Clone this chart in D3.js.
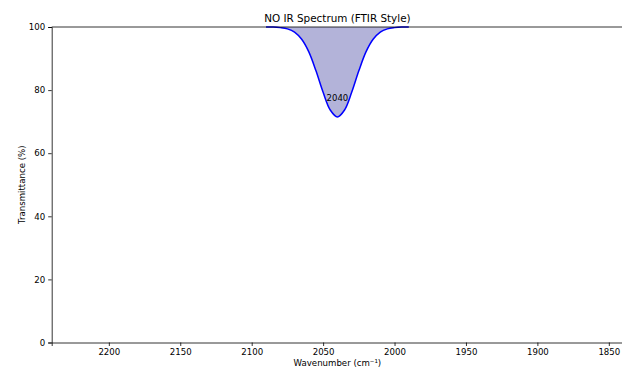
<!DOCTYPE html>
<html>
<head>
<meta charset="utf-8">
<script src="https://cdn.jsdelivr.net/npm/d3@7/dist/d3.min.js"></script>
<style>
  html, body { margin: 0; padding: 0; background: #fff; }
  svg { display: block; font-family: "DejaVu Sans", sans-serif; }
</style>
</head>
<body>
<svg id="chart" width="622" height="370"></svg>
<script>
// NO stretching band, wavenumber (cm^-1) vs transmittance (%)
const wavenumbers = [2090, 2085, 2080, 2075, 2070, 2065, 2060, 2055, 2050, 2045, 2040,
                     2035, 2030, 2025, 2020, 2015, 2010, 2005, 2000, 1995, 1990];
const transmittance = [100, 100, 99.8, 99.4, 98.4, 96.1, 92.1, 86.1, 79.3, 73.7, 71.5,
                       73.7, 79.3, 86.1, 92.1, 96.1, 98.4, 99.4, 99.8, 100, 100];
const peakLabels = [{ wn: 2040, t: 71.5, text: "2040" }];
const xTicks = [2200, 2150, 2100, 2050, 2000, 1950, 1900, 1850];
const yTicks = [0, 20, 40, 60, 80, 100];
const xDomain = [2240, 1840];
const yDomain = [0, 100];

const svg = d3.select("#chart");
const margin = { left: 51.7, right: 623.1, top: 27, bottom: 342.5 };

const x = d3.scaleLinear().domain(xDomain).range([margin.left, margin.right]);
const y = d3.scaleLinear().domain(yDomain).range([margin.bottom, margin.top]);

const data = wavenumbers.map((w, i) => ({ w, t: transmittance[i] }));

// shaded absorption area between the curve and 100 %
const area = d3.area()
  .x(d => x(d.w))
  .y0(y(100))
  .y1(d => y(d.t))
  .curve(d3.curveCatmullRom.alpha(0.5));
svg.append("path").datum(data)
  .attr("d", area)
  .attr("fill", "rgb(179,179,217)");

const line = d3.line()
  .x(d => x(d.w))
  .y(d => y(d.t))
  .curve(d3.curveCatmullRom.alpha(0.5));
svg.append("path").datum(data)
  .attr("d", line)
  .attr("fill", "none")
  .attr("stroke", "#0000ff")
  .attr("stroke-width", 1.5);

// peak annotation
svg.selectAll("text.peak").data(peakLabels).enter().append("text")
  .attr("class", "peak")
  .attr("x", d => x(d.wn))
  .attr("y", d => y(d.t + 5))
  .attr("text-anchor", "middle")
  .attr("font-size", 8.5)
  .attr("fill", "#000")
  .text(d => d.text);

// axes
const xAxis = d3.axisBottom(x).tickValues(xTicks).tickFormat(d3.format("d")).tickSizeOuter(0).tickSize(3.5).tickPadding(3);
const yAxis = d3.axisLeft(y).tickValues(yTicks).tickFormat(d3.format("d")).tickSizeOuter(0).tickSize(3.5).tickPadding(3);

const gx = svg.append("g").attr("transform", `translate(0,${margin.bottom})`).call(xAxis);
const gy = svg.append("g").attr("transform", `translate(${margin.left},0)`).call(yAxis);
[gx, gy].forEach(g => {
  g.selectAll("text").attr("font-size", 8.6).attr("fill", "#000").attr("font-family", "DejaVu Sans, sans-serif");
  g.selectAll("line").attr("stroke", "#000").attr("stroke-width", 0.8);
  g.select(".domain").attr("stroke", "#000").attr("stroke-width", 0.8);
});

// top spine
svg.append("line")
  .attr("x1", margin.left).attr("x2", margin.right)
  .attr("y1", margin.top).attr("y2", margin.top)
  .attr("stroke", "#000").attr("stroke-width", 0.8);

// title and axis labels
svg.append("text")
  .attr("x", (margin.left + margin.right) / 2)
  .attr("y", 21.5)
  .attr("text-anchor", "middle")
  .attr("font-size", 10.4)
  .attr("fill", "#000")
  .text("NO IR Spectrum (FTIR Style)");

svg.append("text")
  .attr("x", (margin.left + margin.right) / 2)
  .attr("y", 366)
  .attr("text-anchor", "middle")
  .attr("font-size", 8.6)
  .attr("fill", "#000")
  .text("Wavenumber (cm⁻¹)");

svg.append("text")
  .attr("transform", `translate(24.5,${(margin.top + margin.bottom) / 2}) rotate(-90)`)
  .attr("text-anchor", "middle")
  .attr("font-size", 8.6)
  .attr("fill", "#000")
  .text("Transmittance (%)");
</script>
</body>
</html>
